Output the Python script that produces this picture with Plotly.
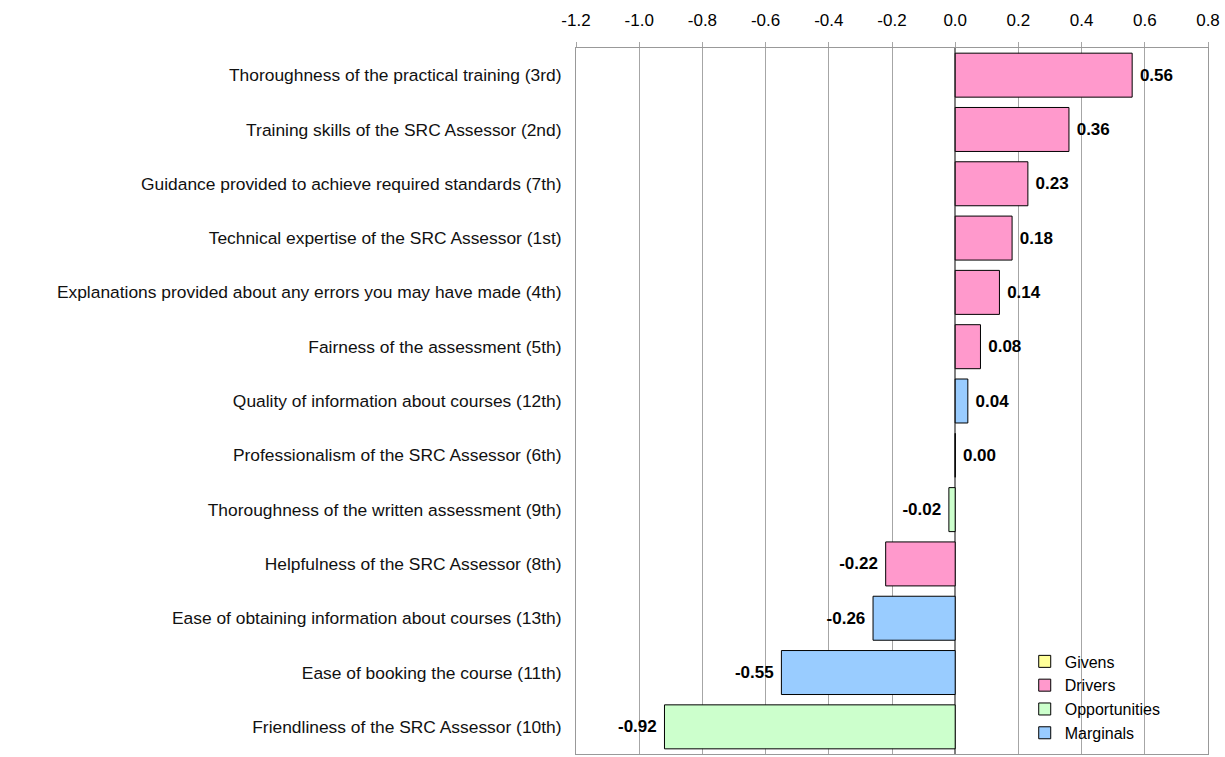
import plotly.graph_objects as go

# attributes, top to bottom as in the chart
attributes = [
    "Thoroughness of the practical training (3rd)",
    "Training skills of the SRC Assessor (2nd)",
    "Guidance provided to achieve required standards (7th)",
    "Technical expertise of the SRC Assessor (1st)",
    "Explanations provided about any errors you may have made (4th)",
    "Fairness of the assessment (5th)",
    "Quality of information about courses (12th)",
    "Professionalism of the SRC Assessor (6th)",
    "Thoroughness of the written assessment (9th)",
    "Helpfulness of the SRC Assessor (8th)",
    "Ease of obtaining information about courses (13th)",
    "Ease of booking the course (11th)",
    "Friendliness of the SRC Assessor (10th)",
]
scores = [0.56, 0.36, 0.23, 0.18, 0.14, 0.08, 0.04, 0.00, -0.02, -0.22, -0.26, -0.55, -0.92]
groups = ["Drivers", "Drivers", "Drivers", "Drivers", "Drivers", "Drivers", "Marginals",
          "Givens", "Opportunities", "Drivers", "Marginals", "Marginals", "Opportunities"]

x_ticks = [-1.2, -1.0, -0.8, -0.6, -0.4, -0.2, 0.0, 0.2, 0.4, 0.6, 0.8]

group_order = ["Givens", "Drivers", "Opportunities", "Marginals"]
group_colors = {
    "Givens": "#FFFF99",
    "Drivers": "#FF99CC",
    "Opportunities": "#CCFFCC",
    "Marginals": "#99CCFF",
}


def bar_label(v):
    # pad the label away from the bar end
    s = f"{v:.2f}"
    return s + " " if v < 0 else " " + s


fig = go.Figure()
for g in group_order:
    ys = [a for a, gg in zip(attributes, groups) if gg == g]
    xs = [v for v, gg in zip(scores, groups) if gg == g]
    fig.add_trace(go.Bar(
        x=xs, y=ys, name=g, orientation="h",
        marker=dict(color=group_colors[g], line=dict(color="black", width=1)),
        text=[bar_label(v) for v in xs],
        textposition="outside",
        textfont=dict(family="Liberation Sans, Arial", size=17, color="black", weight="bold"),
        cliponaxis=False,
    ))

fig.update_layout(
    width=1225, height=757,
    margin=dict(l=576, r=17, t=48, b=3),
    barmode="overlay",
    bargap=0.19,
    plot_bgcolor="white",
    paper_bgcolor="white",
    font=dict(family="Liberation Sans, Arial", size=17, color="black"),
    legend=dict(
        x=0.71, y=0.005, xanchor="left", yanchor="bottom",
        font=dict(size=16), bgcolor="rgba(0,0,0,0)",
        itemwidth=30, tracegroupgap=0,
    ),
    xaxis=dict(
        side="top", range=[-1.2, 0.8],
        tickvals=x_ticks, ticktext=[f"{t:.1f}" for t in x_ticks],
        showgrid=True, gridcolor="#A6A6A6", gridwidth=1,
        ticks="outside", ticklen=5, tickcolor="#A6A6A6",
        ticklabelstandoff=9,
        showline=True, linecolor="#999999", mirror=True,
        zeroline=True, zerolinecolor="#808080", zerolinewidth=2,
        tickfont=dict(size=17),
    ),
    yaxis=dict(
        categoryorder="array", categoryarray=attributes, autorange="reversed",
        showline=True, linecolor="#999999", mirror=True,
        ticks="", ticklabelstandoff=10,
        tickfont=dict(size=17.4, color="#111111"),
    ),
)

# drop the default page margin so the figure fills the window exactly
fig.write_html(
    "out.html",
    config={"displayModeBar": False},
    post_script="document.body.style.margin='0';document.body.style.overflow='hidden';",
)
